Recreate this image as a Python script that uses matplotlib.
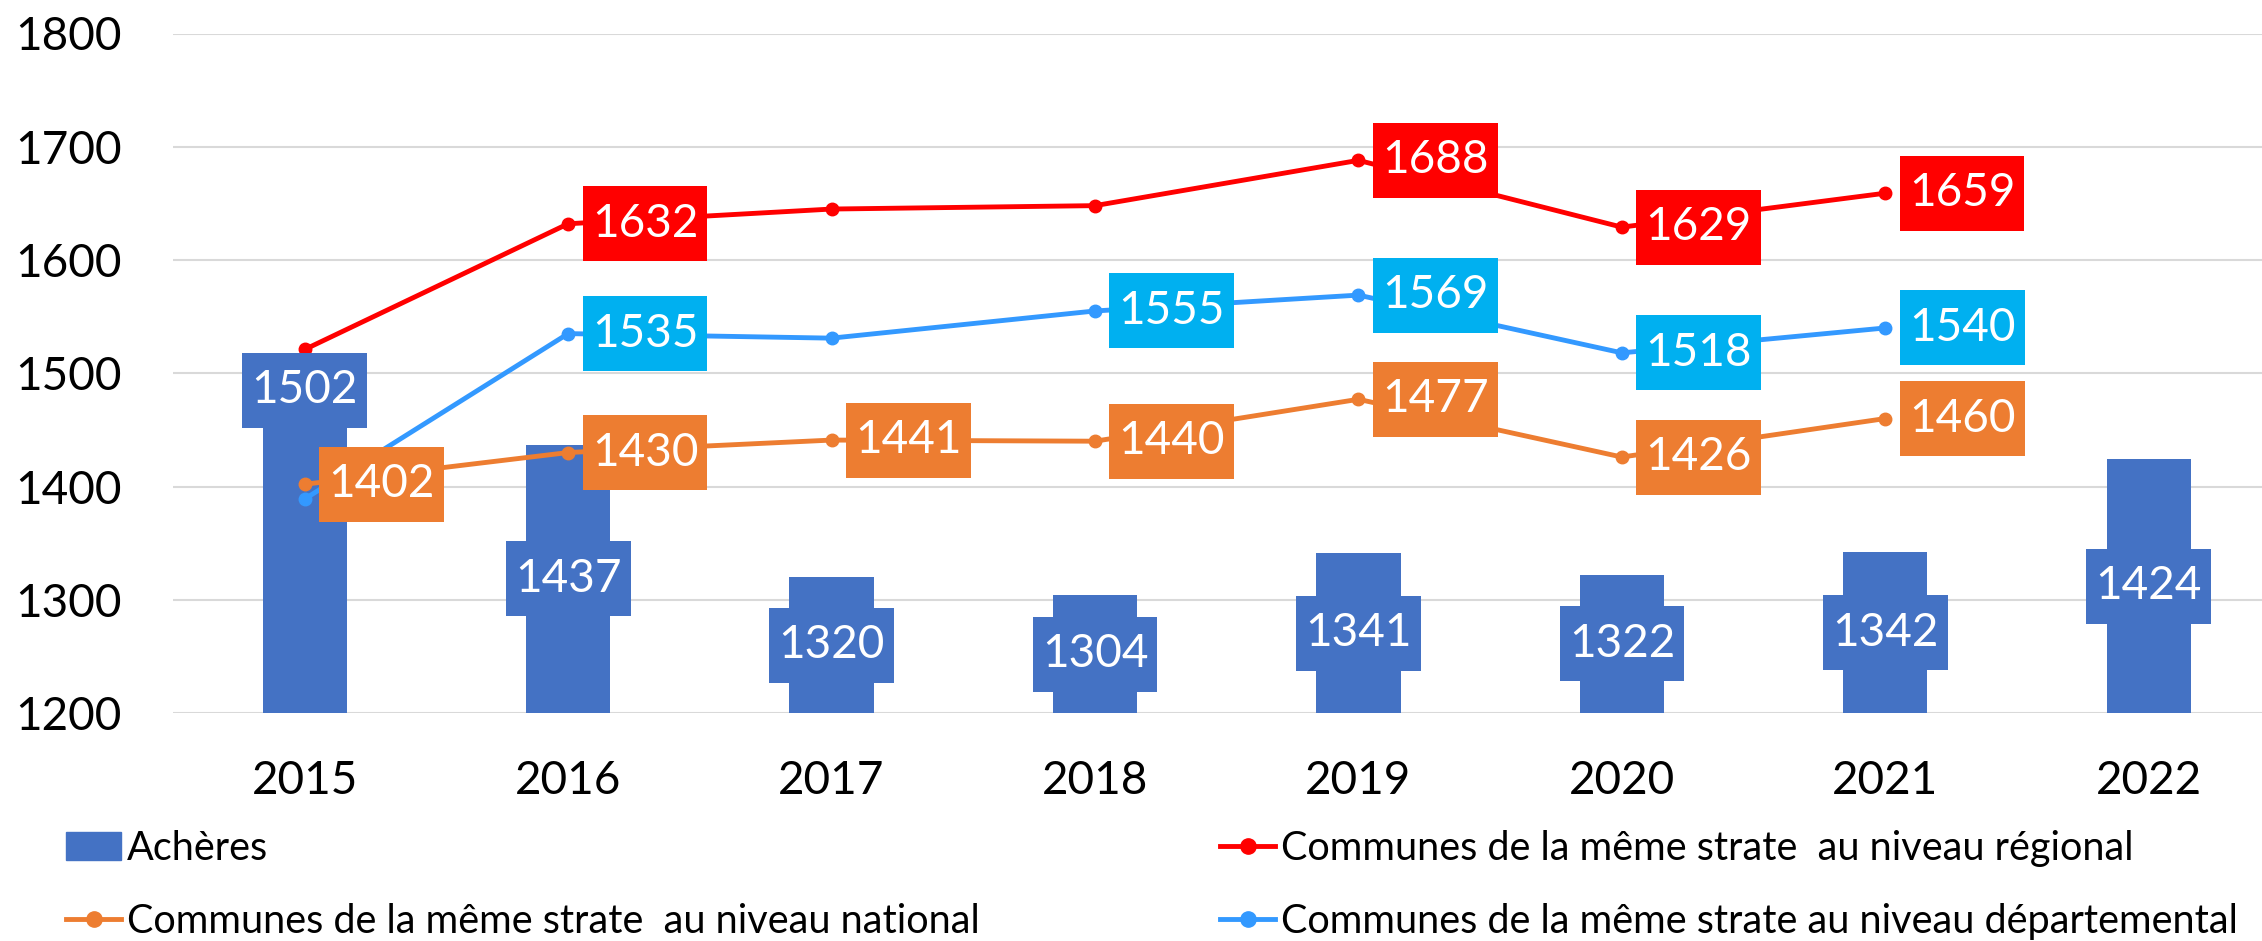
import numpy as np
import matplotlib as mpl
import matplotlib.pyplot as plt
from matplotlib.lines import Line2D
from matplotlib.patches import Patch
from matplotlib.path import Path

mpl.rcParams['font.family'] = ['Lato', 'DejaVu Sans']

# données
annees = ['2015', '2016', '2017', '2018', '2019', '2020', '2021', '2022']
acheres = [1502, 1437, 1320, 1304, 1341, 1322, 1342, 1424]
regional = [1521, 1632, 1645, 1648, 1688, 1629, 1659]
national = [1402, 1430, 1441, 1440, 1477, 1426, 1460]
departemental = [1389, 1535, 1531, 1555, 1569, 1518, 1540]

# étiquettes affichées (les autres sont masquées comme dans l'original)
regional_lab = [False, True, False, False, True, True, True]
national_lab = [True, True, True, True, True, True, True]
departemental_lab = [False, True, False, True, True, True, True]

noms = ['Achères',
        'Communes de la même strate  au niveau régional',
        'Communes de la même strate  au niveau national',
        'Communes de la même strate au niveau départemental']

c_bar = '#4472C4'
c_reg = '#FF0000'
c_nat = '#ED7D31'
c_dep = '#3399FF'
c_dep_box = '#00B0F0'


# cadre rectangulaire, marge horizontale et verticale différentes (style Excel)
def cadre(x0, y0, w, h, mutation_size):
    px = 0.2 * mutation_size
    py = 0.36 * mutation_size
    x0, y0, x1, y1 = x0 - px, y0 - py, x0 + w + px, y0 + h + py
    return Path([(x0, y0), (x1, y0), (x1, y1), (x0, y1), (x0, y0)], closed=True)


fig = plt.figure(figsize=(22.62, 9.41), dpi=100)
ax = fig.add_axes([173 / 2262, 228 / 941, 1 - 173 / 2262, 679.5 / 941])

x = np.arange(len(annees))
ax.bar(x, np.array(acheres) - 1200, bottom=1200, width=0.32, color=c_bar, zorder=2)

fs = 33

# étiquettes des barres
for i, v in enumerate(acheres):
    y = v - 17 if i == 0 else (1200 + v) / 2
    ax.text(x[i], y, str(v), ha='center', va='center', color='white', fontsize=fs,
            bbox=dict(boxstyle=cadre, fc=c_bar, ec='none'), zorder=6)

series = [(departemental, c_dep, c_dep_box, departemental_lab),
          (national, c_nat, c_nat, national_lab),
          (regional, c_reg, c_reg, regional_lab)]
for vals, col, colbox, show in series:
    xs = x[:len(vals)]
    ax.plot(xs, vals, color=col, lw=3.5, marker='o', ms=9, zorder=4)
    for xi, v, s in zip(xs, vals, show):
        if s:
            ax.annotate(str(v), (xi, v), xytext=(17, 0), textcoords='offset points',
                        ha='left', va='center', color='white', fontsize=fs,
                        bbox=dict(boxstyle=cadre, fc=colbox, ec='none'), zorder=7)

ax.set_ylim(1200, 1800)
ax.set_yticks(range(1200, 1801, 100))
ax.set_xlim(-0.5, 7.43)
ax.set_xticks(x)
ax.set_xticklabels(annees)
ax.tick_params(axis='both', length=0, labelsize=fs)
ax.tick_params(axis='y', pad=37)
ax.tick_params(axis='x', pad=34)
ax.grid(axis='y', color='#D9D9D9', lw=1.5, zorder=0)
ax.set_axisbelow(True)
for s in ax.spines.values():
    s.set_visible(False)

# légende en deux colonnes
h_bar = Patch(color=c_bar)
h_reg = Line2D([], [], color=c_reg, lw=3.5, marker='o', ms=11)
h_nat = Line2D([], [], color=c_nat, lw=3.5, marker='o', ms=11)
h_dep = Line2D([], [], color=c_dep, lw=3.5, marker='o', ms=11)
leg_kw = dict(loc='upper left', frameon=False, fontsize=28.5, borderpad=0, borderaxespad=0,
              handlelength=1.4, handleheight=0.7, handletextpad=0.15, labelspacing=0.9)
fig.legend([h_bar, h_nat], [noms[0], noms[2]], bbox_to_anchor=(66 / 2262, 1 - 830 / 941), **leg_kw)
fig.legend([h_reg, h_dep], [noms[1], noms[3]], bbox_to_anchor=(1220 / 2262, 1 - 830 / 941), **leg_kw)

fig.savefig('out.png', dpi=100)
